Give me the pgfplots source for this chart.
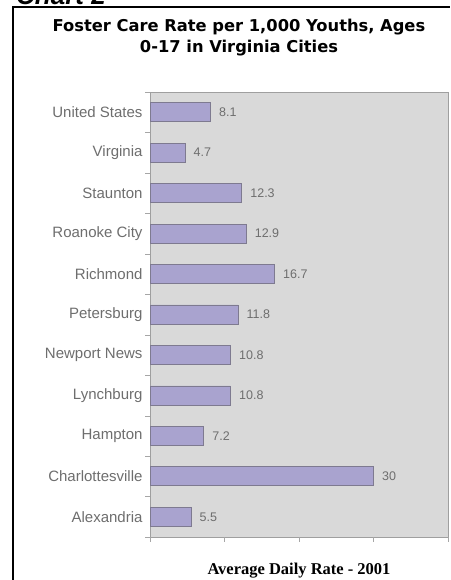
\documentclass[border=0pt]{standalone}
\usepackage{pgfplots}
\pgfplotsset{compat=1.18}
\usepackage{fontspec}
\setmainfont{Liberation Sans}
\newfontfamily\titlefont{DejaVu Sans}
\newfontfamily\seriffont{Liberation Serif}
\definecolor{barfill}{HTML}{A9A3CF}
\definecolor{bardraw}{HTML}{7E7A90}
\definecolor{bgfill}{HTML}{D9D9D9}
\definecolor{lbl}{HTML}{6E6E6E}
\begin{document}
\begin{tikzpicture}[x=1pt,y=1pt]
\useasboundingbox (0pt,0pt) rectangle (450pt,580pt);
\fill[white] (0pt,0pt) rectangle (450pt,580pt);
% frame
\draw[line width=2.2pt] (13pt,0pt) -- (13pt,573pt) -- (450pt,573pt);
\node[anchor=base west,inner sep=0pt,font=\bfseries\itshape\fontsize{26}{28}\selectfont] at (16pt,575.5pt) {Chart 2};
% title
\node[inner sep=0pt,anchor=base,font=\titlefont\bfseries\fontsize{16.3}{21}\selectfont] at (239pt,548pt) {Foster Care Rate per 1,000 Youths, Ages};
\node[inner sep=0pt,anchor=base,font=\titlefont\bfseries\fontsize{16.3}{21}\selectfont] at (239pt,527pt) {0-17 in Virginia Cities};
\begin{axis}[
  at={(150pt,43pt)}, anchor=south west,
  scale only axis, width=298pt, height=445pt,
  xbar, bar width=19pt,
  xmin=0, xmax=40,
  ymin=-0.5, ymax=10.5,
  axis background/.style={fill=bgfill},
  axis line style={draw=gray!75},
  tick pos=left,
  xtick={0,10,20,30,40}, xticklabels={},
  ytick={0,...,10},
  yticklabels={Alexandria,Charlottesville,Hampton,Lynchburg,Newport News,Petersburg,Richmond,Roanoke City,Staunton,Virginia,United States},
  extra y ticks={-0.5,0.5,...,10.5}, extra y tick labels={},
  extra y tick style={major tick length=5pt, tick style={draw=gray!70}},
  y tick label style={font=\fontsize{15}{16}\selectfont, text=lbl, xshift=-4pt},
  major tick length=0pt,
  extra x ticks={0,10,20,30,40}, extra x tick labels={},
  extra x tick style={major tick length=5pt, tick style={draw=gray!70}},
  tick align=outside,
  xlabel={Average Daily Rate - 2001},
  xlabel style={font=\seriffont\bfseries\fontsize{16.5}{18}\selectfont, at={(ticklabel cs:0.5)}, anchor=base, yshift=-26pt},
  /pgf/number format/assume math mode=true,
  nodes near coords,
  nodes near coords style={font=\fontsize{12.5}{14}\selectfont, text=lbl, anchor=west, xshift=5pt},
]
\addplot[fill=barfill, draw=bardraw, line width=0.8pt] coordinates {
 (5.5,0) (30,1) (7.2,2) (10.8,3) (10.8,4) (11.8,5) (16.7,6) (12.9,7) (12.3,8) (4.7,9) (8.1,10)
};
\end{axis}
\end{tikzpicture}
\end{document}
